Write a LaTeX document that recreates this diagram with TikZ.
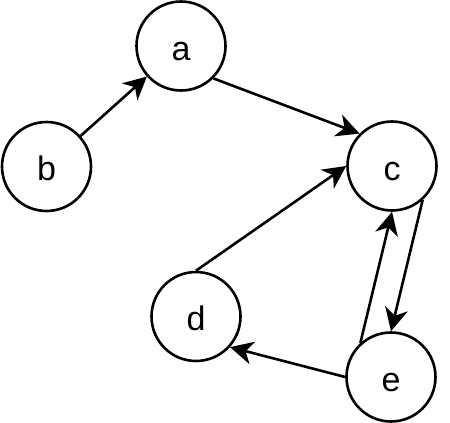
\documentclass[tikz,border=0pt]{standalone}
\usepackage{fontspec}
\setmainfont{Liberation Sans}
\usetikzlibrary{arrows.meta}
\begin{document}
\begin{tikzpicture}[x=1pt,y=-1pt,
  vertex/.style={circle,draw,line width=2.6pt,minimum size=89pt,inner sep=0pt,text height=28pt,text depth=0pt,font=\fontsize{34}{40}\selectfont},
  edge/.style={line width=2.6pt,-{Stealth[length=23pt,width=23pt,inset=7pt]}}]
\useasboundingbox (0,0) rectangle (450,423);
\node[vertex] (a) at (181,46) {a};
\node[vertex] (b) at (46.5,166.5) {b};
\node[vertex] (c) at (392,166) {c};
\node[vertex] (d) at (196,316.5) {d};
\node[vertex] (e) at (391,377) {e};
\draw[edge] (b) -- (a);
\draw[edge] (a.-45) -- (c.135);
\draw[edge] (d.north) -- (c.west);
\draw[edge] (c.-48) -- (e.north);
\draw[edge] (e.132) -- (c.south);
\draw[edge] (e.west) -- (d.-42);
\end{tikzpicture}
\end{document}
